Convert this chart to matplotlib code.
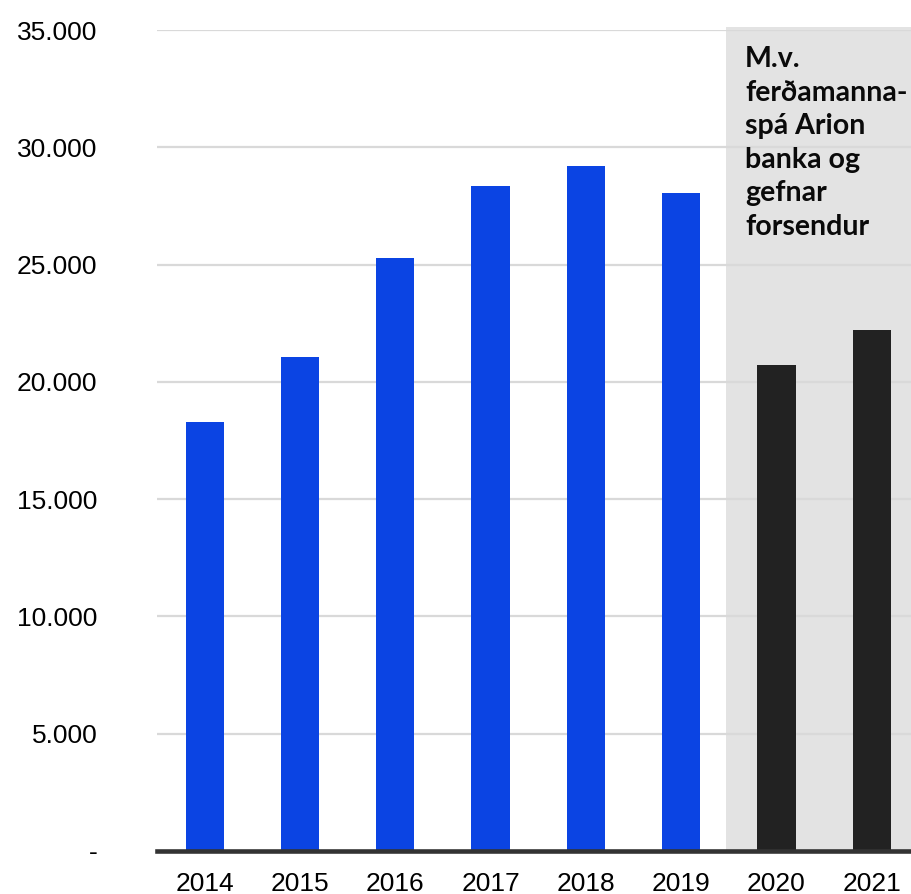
import matplotlib
matplotlib.use("Agg")
import matplotlib.pyplot as plt
from matplotlib.patches import Rectangle

years = ["2014", "2015", "2016", "2017", "2018", "2019", "2020", "2021"]
values = [18300, 21050, 25300, 28350, 29200, 28050, 20700, 22200]
forecast = [False, False, False, False, False, False, True, True]
y_ticks = [0, 5000, 10000, 15000, 20000, 25000, 30000, 35000]
y_tick_labels = ["-", "5.000", "10.000", "15.000", "20.000", "25.000", "30.000", "35.000"]
note = "M.v.\nferðamanna-\nspá Arion\nbanka og\ngefnar\nforsendur"

BLUE = "#0B44E3"
DARK = "#222222"
SHADE = "#E3E3E3"
GRID = "#D9D9D9"

W, H = 912, 894
fig = plt.figure(figsize=(W / 100, H / 100), dpi=100)
left, bottom, top = 157, 851, 30
step = 95.3
ax = fig.add_axes([left / W, (H - bottom) / H, 8 * step / W, (bottom - top) / H])

x = list(range(len(years)))
colors = [DARK if f else BLUE for f in forecast]

ax.set_xlim(-0.5, len(years) - 0.5)
ax.set_ylim(0, 35000)

# shaded forecast period
ax.add_patch(Rectangle((5.47, 0), 3.0, 35130, facecolor=SHADE, edgecolor="none",
                       zorder=0, clip_on=False))

ax.set_yticks(y_ticks)
ax.yaxis.grid(True, color=GRID, linewidth=1.6, zorder=1)
ax.set_axisbelow(True)

ax.bar(x, values, width=0.4, color=colors, zorder=3)

ax.set_xticks(x)
ax.set_xticklabels(years, fontfamily="Liberation Sans", fontsize=19)
ax.set_yticklabels(y_tick_labels, fontfamily="Liberation Sans", fontsize=19)
ax.tick_params(axis="y", length=0, pad=43)
ax.tick_params(axis="x", length=0, pad=15)

for s in ["top", "right", "left"]:
    ax.spines[s].set_visible(False)
ax.spines["bottom"].set_color("#333333")
ax.spines["bottom"].set_linewidth(3.3)
ax.spines["bottom"].set_zorder(4)

fig.text(745 / W, 1 - 46 / H, note, fontfamily="Lato", fontweight="bold",
         fontsize=20.5, va="top", ha="left", linespacing=1.36, color="#0A0A0A")

fig.savefig("out.png", dpi=100, facecolor="white")
